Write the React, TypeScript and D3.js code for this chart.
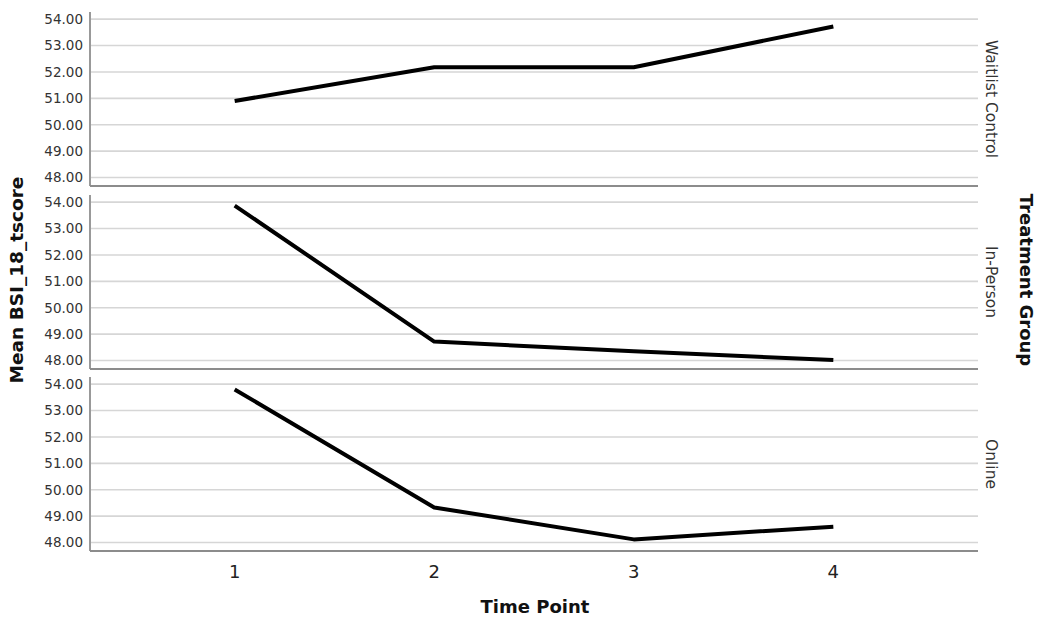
import React from 'react';
import * as d3 from 'd3';

const timePoints = [1, 2, 3, 4];
const groups = ['Waitlist Control', 'In-Person', 'Online'];
const waitlist = [50.9, 52.18, 52.18, 53.72];
const inPerson = [53.87, 48.72, 48.35, 48.02];
const online = [53.8, 49.33, 48.12, 48.6];
const yTicks = [48, 49, 50, 51, 52, 53, 54];

const series = [waitlist, inPerson, online];

const W = 1039;
const H = 619;
const LEFT = 90;
const RIGHT = 978;
const PANELS = [
  { top: 12, bottom: 186 },
  { top: 195, bottom: 369 },
  { top: 377, bottom: 551 },
];
const FONT = '"DejaVu Sans", sans-serif';

export default function App() {
  const x = d3.scaleLinear().domain([0.275, 4.725]).range([LEFT, RIGHT]);

  return (
    <svg width={W} height={H} style={{ position: 'absolute', left: 0, top: 0, background: '#fff' }}>
      {PANELS.map((p, i) => {
        const y = d3.scaleLinear().domain([47.68, 54.27]).range([p.bottom, p.top]);
        const line = d3.line<number>()
          .x((_, j) => x(timePoints[j]))
          .y(d => y(d));
        const mid = (p.top + p.bottom) / 2;
        return (
          <g key={groups[i]}>
            {yTicks.map(t => (
              <g key={t}>
                <line x1={LEFT} x2={RIGHT} y1={y(t)} y2={y(t)} stroke="#d6d6d6" strokeWidth={1.6} />
                <text x={83} y={y(t)} dy="0.36em" textAnchor="end" fontFamily={FONT} fontSize={13.5} fill="#333">
                  {d3.format('.2f')(t)}
                </text>
              </g>
            ))}
            <line x1={LEFT} x2={LEFT} y1={p.top} y2={p.bottom} stroke="#999" strokeWidth={2} />
            <line x1={LEFT} x2={RIGHT} y1={p.bottom} y2={p.bottom} stroke="#8c8c8c" strokeWidth={2} />
            <path d={line(series[i]) ?? ''} fill="none" stroke="#000" strokeWidth={4} strokeLinejoin="round" />
            <text
              transform={`translate(991,${mid}) rotate(90)`}
              textAnchor="middle"
              dy="0.35em"
              fontFamily={FONT}
              fontSize={15.5}
              fill="#333"
            >
              {groups[i]}
            </text>
          </g>
        );
      })}
      {timePoints.map(t => (
        <text key={t} x={x(t)} y={572} dy="0.36em" textAnchor="middle" fontFamily={FONT} fontSize={18} fill="#222">
          {t}
        </text>
      ))}
      <text x={535} y={607} dy="0.35em" textAnchor="middle" fontFamily={FONT} fontSize={18} fontWeight="bold" fill="#111">
        Time Point
      </text>
      <text
        transform={`translate(17,${280}) rotate(-90)`}
        textAnchor="middle"
        dy="0.35em"
        fontFamily={FONT}
        fontSize={18.5}
        fontWeight="bold"
        fill="#111"
      >
        Mean BSI_18_tscore
      </text>
      <text
        transform={`translate(1026,${280}) rotate(90)`}
        textAnchor="middle"
        dy="0.35em"
        fontFamily={FONT}
        fontSize={18}
        fontWeight="bold"
        fill="#111"
      >
        Treatment Group
      </text>
    </svg>
  );
}
